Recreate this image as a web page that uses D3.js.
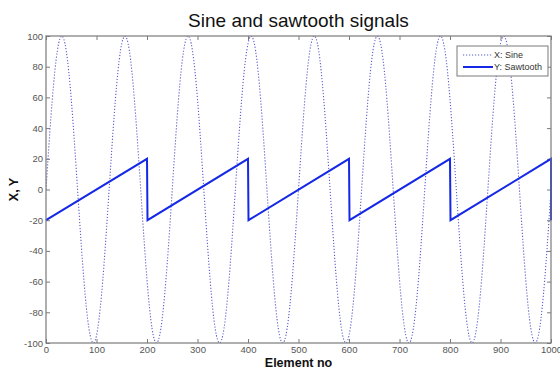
<!DOCTYPE html>
<html lang="en">

<head>
    <meta charset="utf-8">
    <script src="https://cdnjs.cloudflare.com/ajax/libs/d3/7.8.5/d3.min.js"></script>
    <style>
        body { margin: 0; background: #fff; }
        text { font-family: "Liberation Sans", Arial, sans-serif; }
    </style>
</head>

<body>
    <script>
        var w = 560;
        var h = 371;
        var margin = { top: 36, right: 9, bottom: 28, left: 46 };

        // element numbers sampled every 10
        var sineX = d3.range(0, 1001, 10);
        var sineY = [
            0, 48.2, 84.4, 99.8, 90.5, 58.8, 12.5, -36.8, -77.1, -98.2, -95.1, -68.5, -24.9,
            24.9, 68.5, 95.1, 98.2, 77.1, 36.8, -12.5, -58.8, -90.5, -99.8, -84.4, -48.2,
            0, 48.2, 84.4, 99.8, 90.5, 58.8, 12.5, -36.8, -77.1, -98.2, -95.1, -68.5, -24.9,
            24.9, 68.5, 95.1, 98.2, 77.1, 36.8, -12.5, -58.8, -90.5, -99.8, -84.4, -48.2,
            0, 48.2, 84.4, 99.8, 90.5, 58.8, 12.5, -36.8, -77.1, -98.2, -95.1, -68.5, -24.9,
            24.9, 68.5, 95.1, 98.2, 77.1, 36.8, -12.5, -58.8, -90.5, -99.8, -84.4, -48.2,
            0, 48.2, 84.4, 99.8, 90.5, 58.8, 12.5, -36.8, -77.1, -98.2, -95.1, -68.5, -24.9,
            24.9, 68.5, 95.1, 98.2, 77.1, 36.8, -12.5, -58.8, -90.5, -99.8, -84.4, -48.2,
            0
        ];

        var sawX = [0, 200, 201, 400, 401, 600, 601, 800, 801, 1000, 1000];
        var sawY = [-20, 20, -20, 20, -20, 20, -20, 20, -20, 20, -20];

        var xTicks = [0, 100, 200, 300, 400, 500, 600, 700, 800, 900, 1000];
        var yTicks = [-100, -80, -60, -40, -20, 0, 20, 40, 60, 80, 100];
        var legendLabels = ["X: Sine", "Y: Sawtooth"];

        var sineColor = "#5c5ccc";
        var sawColor = "#1428e6";
        var axisColor = "#7a7a7a";

        var iw = w - margin.left - margin.right;
        var ih = h - margin.top - margin.bottom;

        var svg = d3.select("body").append("svg")
            .attr("width", w)
            .attr("height", h);

        var x = d3.scaleLinear().domain([0, 1000]).range([0, iw]);
        var y = d3.scaleLinear().domain([-100, 100]).range([ih, 0]);

        svg.append("defs").append("clipPath").attr("id", "clip")
            .append("rect").attr("width", iw).attr("height", ih);

        var g = svg.append("g").attr("transform", "translate(" + margin.left + "," + margin.top + ")");

        // axes, ticks on the inside of the box
        function styleAxis(sel, labels) {
            sel.select(".domain").remove();
            sel.selectAll(".tick line").attr("stroke", axisColor);
            sel.selectAll(".tick text")
                .attr("fill", "#555")
                .style("font-size", "9.5px")
                .style("display", labels ? null : "none");
        }

        var plain = function (d) { return String(d); };

        g.append("g").attr("transform", "translate(0," + ih + ")")
            .call(d3.axisBottom(x).tickValues(xTicks).tickSize(-4).tickPadding(3).tickFormat(plain))
            .call(styleAxis, true);
        g.append("g")
            .call(d3.axisTop(x).tickValues(xTicks).tickSize(-4))
            .call(styleAxis, false);
        g.append("g")
            .call(d3.axisLeft(y).tickValues(yTicks).tickSize(-4).tickPadding(3).tickFormat(plain))
            .call(styleAxis, true);
        g.append("g").attr("transform", "translate(" + iw + ",0)")
            .call(d3.axisRight(y).tickValues(yTicks).tickSize(-4))
            .call(styleAxis, false);

        var plot = g.append("g").attr("clip-path", "url(#clip)");

        var sineLine = d3.line()
            .x(function (d, i) { return x(sineX[i]); })
            .y(function (d) { return y(d); })
            .curve(d3.curveNatural);

        plot.append("path")
            .datum(sineY)
            .attr("d", sineLine)
            .attr("fill", "none")
            .attr("stroke", sineColor)
            .attr("stroke-width", 1.1)
            .attr("stroke-dasharray", "1.2,1.8");

        var sawLine = d3.line()
            .x(function (d, i) { return x(sawX[i]); })
            .y(function (d) { return y(d); });

        g.append("path")
            .datum(sawY)
            .attr("d", sawLine)
            .attr("fill", "none")
            .attr("stroke", sawColor)
            .attr("stroke-width", 2);

        // box
        g.append("rect")
            .attr("width", iw)
            .attr("height", ih)
            .attr("fill", "none")
            .attr("stroke", axisColor)
            .attr("stroke-width", 1.2);

        // legend
        var lg = svg.append("g").attr("transform", "translate(457,46)");
        lg.append("rect")
            .attr("width", 91)
            .attr("height", 30)
            .attr("fill", "#fff")
            .attr("stroke", axisColor);

        var items = lg.selectAll("g.item")
            .data(legendLabels)
            .enter()
            .append("g")
            .attr("transform", function (d, i) { return "translate(0," + (9 + i * 12) + ")"; });

        items.append("line")
            .attr("x1", 6).attr("x2", 36)
            .attr("stroke", function (d, i) { return i == 0 ? sineColor : sawColor; })
            .attr("stroke-width", function (d, i) { return i == 0 ? 1.1 : 2; })
            .attr("stroke-dasharray", function (d, i) { return i == 0 ? "1.2,1.8" : null; });

        items.append("text")
            .attr("x", 37)
            .attr("y", 3)
            .attr("fill", "#333")
            .style("font-size", "9px")
            .text(function (d) { return d; });

        // titles
        svg.append("text")
            .attr("x", margin.left + iw / 2)
            .attr("y", 27)
            .attr("text-anchor", "middle")
            .style("font-size", "19px")
            .attr("fill", "#111")
            .text("Sine and sawtooth signals");

        svg.append("text")
            .attr("x", margin.left + iw / 2)
            .attr("y", 367)
            .attr("text-anchor", "middle")
            .style("font-size", "12.5px")
            .style("font-weight", "bold")
            .attr("fill", "#111")
            .text("Element no");

        svg.append("text")
            .attr("transform", "translate(18," + (margin.top + ih / 2) + ") rotate(-90)")
            .attr("text-anchor", "middle")
            .style("font-size", "12.5px")
            .style("font-weight", "bold")
            .attr("fill", "#111")
            .text("X, Y");
    </script>
</body>

</html>
